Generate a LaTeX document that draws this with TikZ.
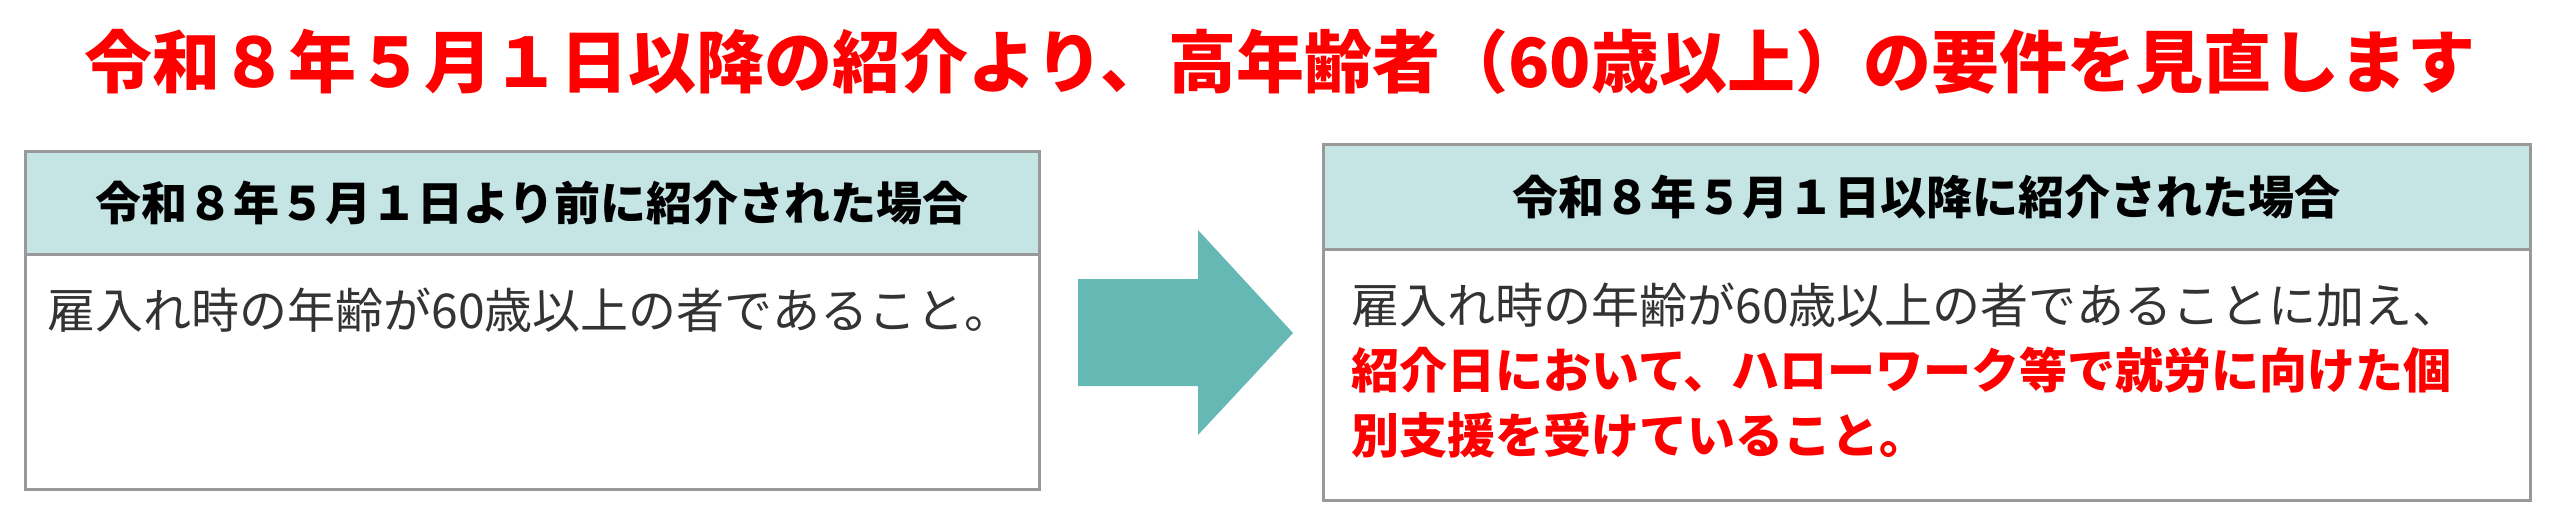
\documentclass[tikz,border=0pt]{standalone}
\usepackage{fontspec}
\setmainfont{Noto Sans CJK JP}
\usetikzlibrary{positioning}
\definecolor{headTeal}{HTML}{C5E4E4}
\definecolor{arrowTeal}{HTML}{66B8B5}
\definecolor{boxGray}{HTML}{999999}
\definecolor{bodyGray}{HTML}{333333}
\definecolor{alertRed}{HTML}{FF0000}
\begin{document}
\begin{tikzpicture}[x=1pt,y=-1pt,
    headbox/.style={draw=boxGray,line width=3pt,fill=headTeal,inner sep=0pt},
    bodybox/.style={draw=boxGray,line width=3pt,fill=white,inner sep=0pt},
    headtext/.style={font=\fontsize{46}{50}\selectfont\bfseries,text=black},
    bodytext/.style={font=\fontsize{48}{65}\selectfont,text=bodyGray,anchor=north west,align=left}]

  \useasboundingbox (0,0) rectangle (2560,527);

  % title
  \node[font=\fontsize{68}{72}\selectfont\bfseries,text=alertRed] (title) at (1280,62)
    {令和８年５月１日以降の紹介より、高年齢者（60歳以上）の要件を見直します};

  % before
  \draw[bodybox] (25,151) rectangle (1039,489);
  \draw[headbox] (25,151) rectangle (1039,254);
  \node[headtext] (oldhead) at (532,203) {令和８年５月１日より前に紹介された場合};
  \node[bodytext] (oldbody) at (44,284) {雇入れ時の年齢が60歳以上の者であること。};

  % arrow
  \fill[arrowTeal] (1078,279) -- (1198,279) -- (1198,230) -- (1293,333)
    -- (1198,435) -- (1198,386) -- (1078,386) -- cycle;

  % after
  \draw[bodybox] (1323,144) rectangle (2530,500);
  \draw[headbox] (1323,144) rectangle (2530,249);
  \node[headtext] (newhead) at (1926,197) {令和８年５月１日以降に紹介された場合};
  \node[bodytext] (newbody) at (1348,279)
    {雇入れ時の年齢が60歳以上の者であることに加え、\\
     {\color{alertRed}\bfseries 紹介日において、ハローワーク等で就労に向けた個}\\
     {\color{alertRed}\bfseries 別支援を受けていること。}};

\end{tikzpicture}
\end{document}
